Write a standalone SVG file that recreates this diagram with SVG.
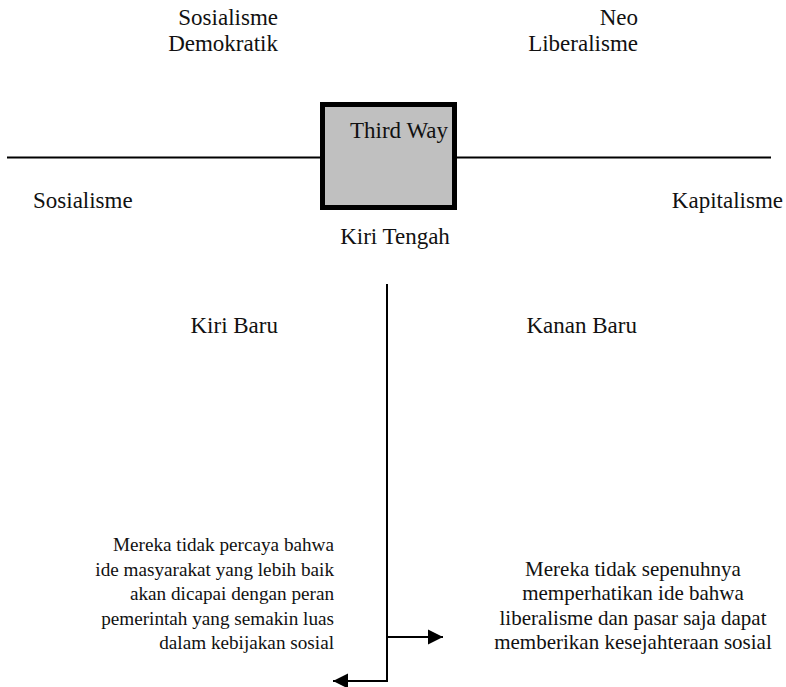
<svg xmlns="http://www.w3.org/2000/svg" width="786" height="687" viewBox="0 0 786 687">
  <style>
    text { font-family: "Liberation Serif", "DejaVu Serif", serif; font-size: 23px; fill: #111; }
    .end { text-anchor: end; }
    .mid { text-anchor: middle; }
    .pl { font-size: 19.2px; text-anchor: end; }
    .pr { font-size: 21px; text-anchor: middle; }
    .ln { stroke: #000; stroke-width: 2; fill: none; }
  </style>
  <defs>
    <marker id="arrow" markerUnits="userSpaceOnUse" markerWidth="16" markerHeight="16" refX="15" refY="8" orient="auto">
      <path d="M0,0.5 L15,8 L0,15.5 Z" fill="#000"/>
    </marker>
  </defs>
  <rect width="786" height="687" fill="#fff"/>

  <g id="connectors">
    <line class="ln" x1="7" y1="157.5" x2="771" y2="157.5"/>
    <line class="ln" x1="387" y1="284" x2="387" y2="681"/>
    <line class="ln" x1="387" y1="637" x2="443" y2="637" marker-end="url(#arrow)"/>
    <line class="ln" x1="388" y1="681" x2="333" y2="681" marker-end="url(#arrow)"/>
  </g>

  <g id="third-way">
    <rect x="322.5" y="104.5" width="132" height="103" fill="#c0c0c0" stroke="#000" stroke-width="5"/>
    <text class="end" x="448" y="138">Third Way</text>
  </g>

  <g id="sosialisme-demokratik">
    <text class="end" x="278" y="25">Sosialisme</text>
    <text class="end" x="278" y="51">Demokratik</text>
  </g>

  <g id="neo-liberalisme">
    <text class="end" x="638" y="25">Neo</text>
    <text class="end" x="638" y="51">Liberalisme</text>
  </g>

  <g id="sosialisme">
    <text x="33" y="208">Sosialisme</text>
  </g>

  <g id="kapitalisme">
    <text class="end" x="783" y="208">Kapitalisme</text>
  </g>

  <g id="kiri-tengah">
    <text class="mid" x="395" y="244">Kiri Tengah</text>
  </g>

  <g id="kiri-baru">
    <text class="end" x="278" y="333">Kiri Baru</text>
  </g>

  <g id="kanan-baru">
    <text class="end" x="637" y="333">Kanan Baru</text>
  </g>

  <g id="kiri-baru-desc">
    <text class="pl" x="334" y="551">Mereka tidak percaya bahwa</text>
    <text class="pl" x="334" y="575.5">ide masyarakat yang lebih baik</text>
    <text class="pl" x="334" y="600">akan dicapai dengan peran</text>
    <text class="pl" x="334" y="624.5">pemerintah yang semakin luas</text>
    <text class="pl" x="334" y="649">dalam kebijakan sosial</text>
  </g>

  <g id="kanan-baru-desc">
    <text class="pr" x="633" y="575.5">Mereka tidak sepenuhnya</text>
    <text class="pr" x="633" y="600">memperhatikan ide bahwa</text>
    <text class="pr" x="633" y="624.5">liberalisme dan pasar saja dapat</text>
    <text class="pr" x="633" y="649">memberikan kesejahteraan sosial</text>
  </g>
</svg>
